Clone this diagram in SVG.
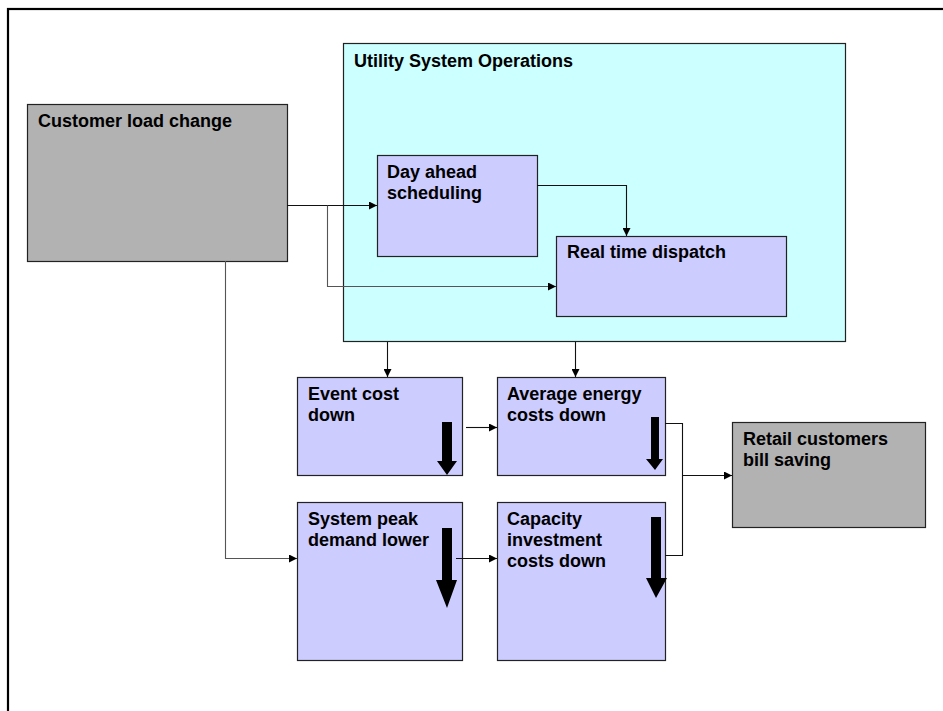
<svg xmlns="http://www.w3.org/2000/svg" width="943" height="711" viewBox="0 0 943 711">
  <style>
    .box { stroke: #222; stroke-width: 1.2; }
    .grey { fill: #b2b2b2; }
    .teal { fill: #ccffff; }
    .lav { fill: #ccccff; }
    .lbl { font-family: "Liberation Sans", Arial, sans-serif; font-weight: bold; font-size: 18px; fill: #000; }
    .wire { fill: none; stroke: #111; stroke-width: 1.1; }
    .wire.soft { stroke: #555; }
    .big { fill: #000; }
  </style>
  <defs>
    <marker id="tip" viewBox="0 0 8 8" refX="8" refY="4" markerWidth="8" markerHeight="8" markerUnits="userSpaceOnUse" orient="auto">
      <path d="M0,0 L8,4 L0,8 Z" fill="#000"/>
    </marker>
  </defs>

  <rect width="943" height="711" fill="#fff"/>
  <!-- page frame, only left and top edges fall inside the view -->
  <rect x="8" y="9" width="1000" height="1000" fill="none" stroke="#000" stroke-width="2.2"/>

  <g id="utility-ops">
    <rect class="box teal" x="343.5" y="43.5" width="502" height="298"/>
    <text class="lbl" x="354" y="67">Utility System Operations</text>
  </g>

  <g id="customer-load">
    <rect class="box grey" x="27.5" y="104.5" width="260" height="157"/>
    <text class="lbl" x="38" y="127">Customer load change</text>
  </g>

  <g id="day-ahead">
    <rect class="box lav" x="377.5" y="155.5" width="160" height="101"/>
    <text class="lbl" x="387" y="178">Day ahead</text>
    <text class="lbl" x="387" y="199">scheduling</text>
  </g>

  <g id="real-time">
    <rect class="box lav" x="556.5" y="236.5" width="230" height="80"/>
    <text class="lbl" x="567" y="258">Real time dispatch</text>
  </g>

  <g id="event-cost">
    <rect class="box lav" x="297.5" y="377.5" width="165" height="98"/>
    <text class="lbl" x="308" y="400">Event cost</text>
    <text class="lbl" x="308" y="421">down</text>
    <polygon class="big" points="442,422 452,422 452,461 457,461 447,475 437,461 442,461"/>
  </g>

  <g id="avg-energy">
    <rect class="box lav" x="497.5" y="377.5" width="168" height="98"/>
    <text class="lbl" x="507" y="400">Average energy</text>
    <text class="lbl" x="507" y="421">costs down</text>
    <polygon class="big" points="651,417 659,417 659,459 663,459 655,470 646,459 651,459"/>
  </g>

  <g id="system-peak">
    <rect class="box lav" x="297.5" y="502.5" width="165" height="158"/>
    <text class="lbl" x="308" y="525">System peak</text>
    <text class="lbl" x="308" y="546">demand lower</text>
    <polygon class="big" points="442,528 452,528 452,580 457,580 447,608 436,580 442,580"/>
  </g>

  <g id="capacity">
    <rect class="box lav" x="497.5" y="502.5" width="168" height="158"/>
    <text class="lbl" x="507" y="525">Capacity</text>
    <text class="lbl" x="507" y="546">investment</text>
    <text class="lbl" x="507" y="567">costs down</text>
    <polygon class="big" points="651,517 661,517 661,578 667,578 656,598 646,578 651,578"/>
  </g>

  <g id="retail-bill">
    <rect class="box grey" x="732.5" y="422.5" width="193" height="105"/>
    <text class="lbl" x="743" y="445">Retail customers</text>
    <text class="lbl" x="743" y="466">bill saving</text>
  </g>

  <g id="connectors">
    <path class="wire" d="M287,205.5 H377" marker-end="url(#tip)"/>
    <path class="wire soft" d="M327.5,205.5 V286.5 H556" marker-end="url(#tip)"/>
    <path class="wire" d="M537,185.5 H626.5 V236" marker-end="url(#tip)"/>
    <path class="wire" d="M387.5,342 V377" marker-end="url(#tip)"/>
    <path class="wire" d="M575.5,342 V377" marker-end="url(#tip)"/>
    <path class="wire" d="M466,427.5 H497" marker-end="url(#tip)"/>
    <path class="wire" d="M456,558.5 H497" marker-end="url(#tip)"/>
    <path class="wire" d="M665,423.5 H682.5 V555.5 H665"/>
    <path class="wire" d="M682.5,475.5 H732" marker-end="url(#tip)"/>
    <path class="wire soft" d="M225.5,261 V558.5 H297" marker-end="url(#tip)"/>
  </g>
</svg>
